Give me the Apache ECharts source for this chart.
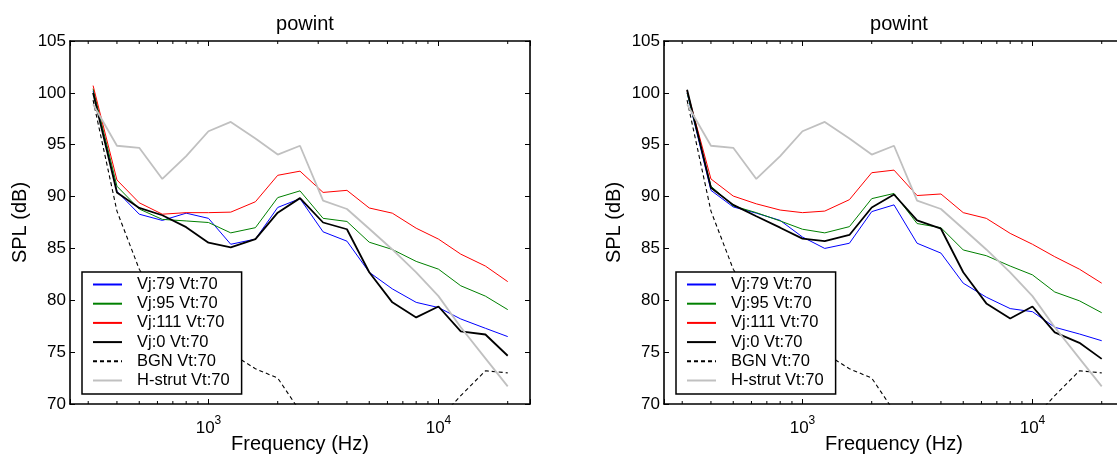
<!DOCTYPE html>
<html>
<head>
<meta charset="utf-8">
<script src="https://cdn.jsdelivr.net/npm/echarts@6/dist/echarts.min.js"></script>
<style>
html,body{margin:0;padding:0;background:#fff;}
#chart{width:1117px;height:454px;}
</style>
</head>
<body>
<div id="chart"></div>
<script>
// ---- data ----
const freqs = [315, 400, 500, 630, 800, 1000, 1250, 1600, 2000, 2500, 3150, 4000, 5000, 6300, 8000, 10000, 12500, 16000, 20000];
const seriesNames = ['Vj:79 Vt:70', 'Vj:95 Vt:70', 'Vj:111 Vt:70', 'Vj:0 Vt:70', 'BGN Vt:70', 'H-strut Vt:70'];

// left panel
const vj79L  = [100.2, 90.5, 88.3, 87.7, 88.4, 87.9, 85.4, 85.9, 88.95, 89.8, 86.6, 85.7, 82.7, 81.1, 79.8, 79.3, 78.2, 77.3, 76.5];
const vj95L  = [100.4, 91.0, 88.8, 87.8, 87.65, 87.5, 86.5, 87.0, 89.9, 90.55, 87.9, 87.6, 85.6, 84.9, 83.75, 83.0, 81.4, 80.4, 79.1];
const vj111L = [100.7, 91.6, 89.4, 88.3, 88.45, 88.45, 88.5, 89.5, 92.05, 92.45, 90.4, 90.6, 88.9, 88.4, 86.95, 85.9, 84.45, 83.3, 81.8];
const vj0L   = [100.0, 90.4, 88.9, 88.2, 87.05, 85.55, 85.1, 85.9, 88.45, 89.85, 87.5, 86.85, 82.7, 79.8, 78.35, 79.4, 77.0, 76.7, 74.65];

// right panel
const vj79R  = [100.0, 90.6, 89.0, 88.4, 87.7, 86.1, 85.0, 85.5, 88.55, 89.2, 85.5, 84.55, 81.65, 80.3, 79.2, 78.9, 77.4, 76.75, 76.1];
const vj95R  = [100.0, 91.0, 89.1, 88.45, 87.65, 86.85, 86.5, 87.1, 89.8, 90.3, 87.4, 87.0, 84.85, 84.3, 83.3, 82.45, 80.8, 79.95, 78.8];
const vj111R = [100.2, 91.7, 90.05, 89.3, 88.7, 88.45, 88.6, 89.7, 92.3, 92.55, 90.1, 90.25, 88.45, 87.9, 86.45, 85.4, 84.2, 83.0, 81.65];
const vj0R   = [100.3, 90.85, 89.2, 88.1, 87.0, 85.95, 85.7, 86.3, 88.95, 90.2, 87.7, 86.9, 82.7, 79.7, 78.25, 79.4, 76.9, 75.9, 74.35];

// shared references
const bgn    = [99.3, 88.6, 83.0, 79.5, 77.5, 76.0, 74.9, 73.4, 72.5, 69.3, 68.0, 67.5, 67.0, 67.0, 67.5, 68.5, 70.8, 73.2, 73.0];
const hstrut = [98.9, 94.9, 94.7, 91.7, 93.9, 96.3, 97.2, 95.6, 94.05, 94.9, 89.6, 88.8, 86.9, 84.9, 82.7, 80.4, 77.4, 74.4, 71.7];

const xMajorTicks = [1000, 10000];
const xMajorLabels = ['{b|10}{s|3}', '{b|10}{s|4}'];
const minorTicks = [300, 400, 500, 600, 700, 800, 900, 2000, 3000, 4000, 5000, 6000, 7000, 8000, 9000, 20000];
const titleText = 'powint';
const xName = 'Frequency (Hz)';
const yName = 'SPL (dB)';
const xRange = [250, 25000];
const yRange = [70, 105];

// ---- chart ----
const FONT = '"Liberation Sans", Arial, Helvetica, sans-serif';
const chart = echarts.init(document.getElementById('chart'), null, {renderer: 'canvas'});

const styles = [
  {color: '#0000ff', width: 1, type: 'solid'},
  {color: '#008000', width: 1, type: 'solid'},
  {color: '#ff0000', width: 1, type: 'solid'},
  {color: '#000000', width: 1.8, type: 'solid'},
  {color: '#000000', width: 1.1, type: [4, 3]},
  {color: '#c0c0c0', width: 1.8, type: 'solid'}
];

const panels = [
  {left: 70, data: [vj79L, vj95L, vj111L, vj0L, bgn, hstrut]},
  {left: 664, data: [vj79R, vj95R, vj111R, vj0R, bgn, hstrut]}
];

const grids = [], xAxes = [], yAxes = [], series = [], titles = [], legends = [];
const W = 460, TOP = 41, H = 363;

panels.forEach((p, i) => {
  grids.push({left: p.left, top: TOP, width: W, height: H, containLabel: false, outerBoundsMode: 'none'});
  const axisLineStyle = {show: true, lineStyle: {color: '#000', width: 1.6}};
  // bottom x
  xAxes.push({
    type: 'log', gridIndex: i, position: 'bottom', min: xRange[0], max: xRange[1], logBase: 10,
    axisLine: axisLineStyle,
    axisTick: {show: true, inside: true, length: 5, lineStyle: {color: '#000', width: 1}},
    splitLine: {show: false},
    axisLabel: {
      margin: 11, color: '#000', fontFamily: FONT,
      formatter: function (v) {
        const k = xMajorTicks.findIndex(t => Math.abs(t - v) / t < 1e-6);
        return k >= 0 ? xMajorLabels[k] : '';
      },
      rich: {
        b: {fontSize: 17, fontFamily: FONT, color: '#000', lineHeight: 26, verticalAlign: 'middle'},
        s: {fontSize: 12, fontFamily: FONT, color: '#000', lineHeight: 12, verticalAlign: 'top'}
      }
    },
    name: xName, nameLocation: 'middle', nameGap: 30, nameMoveOverlap: false,
    nameTextStyle: {fontSize: 20, fontFamily: FONT, color: '#000'}
  });
  // top x
  xAxes.push({
    type: 'log', gridIndex: i, position: 'top', min: xRange[0], max: xRange[1], logBase: 10,
    axisLine: axisLineStyle,
    axisTick: {show: true, inside: true, length: 5, lineStyle: {color: '#000', width: 1}},
    splitLine: {show: false}, axisLabel: {show: false}
  });
  // left y
  yAxes.push({
    type: 'value', gridIndex: i, position: 'left', min: yRange[0], max: yRange[1], interval: 5,
    axisLine: axisLineStyle,
    axisTick: {show: true, inside: true, length: 5, lineStyle: {color: '#000', width: 1}},
    splitLine: {show: false},
    axisLabel: {margin: 4, color: '#000', fontSize: 17, fontFamily: FONT},
    name: yName, nameLocation: 'middle', nameGap: 40, nameRotate: 90, nameMoveOverlap: false,
    nameTextStyle: {fontSize: 20, fontFamily: FONT, color: '#000'}
  });
  // right y
  yAxes.push({
    type: 'value', gridIndex: i, position: 'right', min: yRange[0], max: yRange[1], interval: 5,
    axisLine: axisLineStyle,
    axisTick: {show: true, inside: true, length: 5, lineStyle: {color: '#000', width: 1}},
    splitLine: {show: false}, axisLabel: {show: false}
  });

  p.data.forEach((arr, k) => {
    series.push({
      name: seriesNames[k], type: 'line', xAxisIndex: i * 2, yAxisIndex: i * 2,
      data: freqs.map((f, j) => [f, arr[j]]),
      symbol: 'none', showSymbol: false, smooth: false, clip: true,
      lineStyle: {color: styles[k].color, width: styles[k].width, type: styles[k].type},
      itemStyle: {color: styles[k].color},
      emphasis: {disabled: true}
    });
  });

  // minor ticks (bottom & top) drawn through axis scale
  series.push({
    type: 'custom', xAxisIndex: i * 2, yAxisIndex: i * 2, silent: true,
    data: minorTicks.map(f => [f, yRange[0]]),
    renderItem: function (params, api) {
      const b = api.coord([api.value(0), yRange[0]]);
      const t = api.coord([api.value(0), yRange[1]]);
      const st = {stroke: '#000', lineWidth: 1};
      return {type: 'group', children: [
        {type: 'line', shape: {x1: b[0], y1: b[1], x2: b[0], y2: b[1] - 3}, style: st},
        {type: 'line', shape: {x1: t[0], y1: t[1], x2: t[0], y2: t[1] + 3}, style: st}
      ]};
    }
  });

  titles.push({
    text: titleText, left: p.left + W / 2, top: 9, textAlign: 'center',
    textStyle: {fontSize: 20, fontWeight: 'normal', fontFamily: FONT, color: '#000'}
  });

  legends.push({
    data: seriesNames.map(n => ({name: n})),
    orient: 'vertical', left: p.left + 12, top: 272,
    itemWidth: 29, itemHeight: 14, itemGap: 2.2,
    padding: [4, 12, 5, 10],
    backgroundColor: '#fff', borderColor: '#000', borderWidth: 1.5, borderRadius: 0,
    selectedMode: false,
    itemStyle: {opacity: 0, borderWidth: 0},
    formatter: function (name) { return '{g| }{t|' + name + '}'; },
    textStyle: {
      fontSize: 16.5, fontFamily: FONT, color: '#000',
      rich: {
        g: {width: 10, fontSize: 16.5, lineHeight: 16},
        t: {fontSize: 16.5, lineHeight: 16, fontFamily: FONT, color: '#000'}
      }
    }
  });
});

chart.setOption({
  animation: false,
  backgroundColor: '#fff',
  title: titles,
  legend: legends,
  grid: grids,
  xAxis: xAxes,
  yAxis: yAxes,
  series: series
});
</script>
</body>
</html>
